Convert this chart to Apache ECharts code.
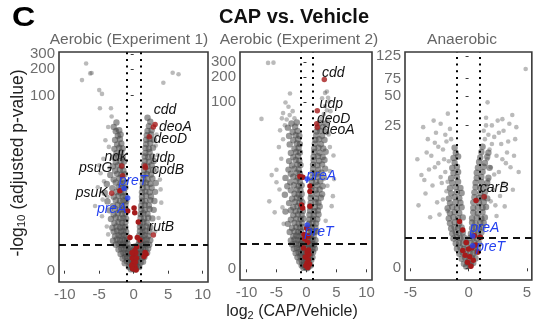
<!DOCTYPE html>
<html><head><meta charset="utf-8">
<script src="https://cdn.jsdelivr.net/npm/echarts@6/dist/echarts.min.js"></script>
<style>html,body{margin:0;padding:0;background:#fff}#c{width:534px;height:326px}</style>
</head><body><div id="c"></div>
<script>
// ---------------- DATA (x = log2 fold change, v = -log10 adjusted p) ----------------
const panelTitles = ['Aerobic (Experiment 1)', 'Aerobic (Experiment 2)', 'Anaerobic'];
const xTicksAerobic = [-10, -5, 0, 5, 10];
const xTicksAnaerobic = [-5, 0, 5];
const yTicksAerobic = [0, 100, 200, 300];
const yTicksAnaerobic = [0, 25, 50, 75, 125];
const fcThreshold = 1;      // |log2 FC| cutoff
const padjThreshold = 1;    // -log10 adjusted p cutoff

// dense central V (non-significant / moderately significant genes)
const aero1Core = [
[-0.4,0.04],[-0.15,0.07],[0.1,0.03],[0.35,0.06],[-0.7,0.1],[-0.3,0.14],[0.05,0.11],[0.25,0.15],[0.55,0.12],[0.8,0.1],
[-1.3,0.22],[-1.0,0.28],[-0.65,0.24],[-0.35,0.3],[0.3,0.25],[0.65,0.29],[1.0,0.23],[1.35,0.27],
[-1.6,0.38],[-1.25,0.44],[-0.95,0.4],[-0.6,0.43],[0.45,0.39],[0.85,0.45],[1.15,0.4],[1.55,0.43],
[-1.9,0.55],[-1.5,0.6],[-1.15,0.56],[-0.8,0.62],[-0.5,0.57],[0.5,0.6],[0.9,0.55],[1.25,0.62],[1.6,0.57],[1.95,0.6],
[-2.2,0.75],[-1.8,0.8],[-1.4,0.76],[-1.05,0.82],[-0.7,0.77],[0.6,0.8],[1.0,0.75],[1.35,0.81],[1.7,0.77],[2.1,0.79],
[-0.3,0.5],[0.1,0.45],[-0.1,0.7],[0.3,0.65],[-0.4,0.85],[0.2,0.9],[0.0,0.3],[-0.2,0.2],[0.15,0.2],
[-2.6,0.98],[-2.2,1.03],[-1.8,0.97],[-1.5,1.02],[-1.2,0.96],[-0.9,1.04],[0.7,0.99],[1.05,1.03],[1.4,0.97],[1.8,1.02],[2.25,0.98],
[-3.0,1.2],[-2.45,1.27],[-2.0,1.22],[-1.6,1.28],[-1.3,1.21],[-0.95,1.26],[0.8,1.22],[1.1,1.28],[1.5,1.2],[1.9,1.27],[2.4,1.23],
[-2.7,1.48],[-2.2,1.55],[-1.8,1.5],[-1.4,1.56],[-1.0,1.49],[0.8,1.53],[1.2,1.48],[1.6,1.55],[2.1,1.5],
[-2.9,1.8],[-2.4,1.86],[-1.9,1.79],[-1.5,1.85],[-1.1,1.8],[0.9,1.84],[1.3,1.78],[1.7,1.86],[2.3,1.81],
[-3.1,2.1],[-2.5,2.2],[-2.0,2.12],[-1.6,2.19],[-1.2,2.14],[0.9,2.18],[1.3,2.11],[1.8,2.2],[2.4,2.13],
[-2.8,2.5],[-2.2,2.6],[-1.7,2.52],[-1.2,2.58],[0.95,2.51],[1.4,2.6],[1.9,2.53],
[-3.3,2.9],[-2.6,3.05],[-2.0,2.95],[-1.5,3.02],[-1.1,2.93],[1.0,3.0],[1.5,2.94],[2.1,3.04],[2.7,2.96],
[-2.9,3.4],[-2.3,3.55],[-1.7,3.45],[-1.2,3.52],[1.0,3.44],[1.4,3.53],[2.0,3.46],
[-3.5,3.9],[-2.7,4.1],[-2.0,3.95],[-1.5,4.05],[-1.1,3.97],[1.1,4.02],[1.6,3.94],[2.3,4.08],[2.9,3.96],
[-3.0,4.5],[-2.3,4.7],[-1.7,4.55],[-1.2,4.65],[1.1,4.52],[1.6,4.68],[2.2,4.57],
[-3.8,5.2],[-2.6,5.4],[-2.0,5.25],[-1.5,5.35],[-1.1,5.22],[1.2,5.32],[1.7,5.24],[2.4,5.38],[3.0,5.27],
[-2.9,6.0],[-2.2,6.2],[-1.6,6.05],[-1.2,6.15],[1.2,6.02],[1.8,6.18],[2.5,6.07],
[-4.2,6.8],[-2.5,7.0],[-1.9,6.85],[-1.4,6.95],[1.2,6.88],[1.7,7.02],[2.3,6.9],[3.1,6.97],
[-3.1,7.8],[-2.2,8.0],[-1.6,7.85],[-1.2,7.95],[1.3,7.88],[1.9,8.02],[2.6,7.9],
[-3.9,8.8],[-2.6,9.2],[-1.9,8.9],[-1.4,9.1],[1.3,8.95],[1.8,9.15],[2.4,8.85],[3.2,9.05],
[-2.9,10.0],[-2.1,10.4],[-1.6,10.1],[1.4,10.3],[2.0,10.05],[2.7,10.35],
[-3.4,11.4],[-2.4,11.8],[-1.8,11.5],[-1.3,11.7],[1.4,11.45],[1.9,11.75],[2.5,11.55],
[-2.7,12.9],[-2.0,13.3],[-1.5,13.0],[1.5,13.2],[2.1,12.95],[2.8,13.25],
[-3.0,14.6],[-2.3,15.0],[-1.7,14.7],[1.5,14.95],[2.0,14.6],[2.6,15.05],
[-2.6,16.5],[-1.9,17.0],[-1.4,16.7],[1.6,16.9],[2.2,16.6],[2.9,17.0],
[-2.9,18.7],[-2.2,19.3],[-1.6,18.9],[1.6,19.2],[2.1,18.8],[2.7,19.3],
[-2.5,21.0],[-1.8,21.7],[1.7,21.2],[2.3,21.6],
[-2.8,23.7],[-2.1,24.4],[-1.6,24.0],[1.7,24.3],[2.2,23.8],[2.8,24.5],
[-2.4,26.8],[-1.8,27.5],[1.8,27.0],[2.4,27.6],
[-2.7,30.2],[-2.0,31.0],[1.8,30.4],[2.3,31.0],[2.9,30.5],
[-2.3,34.0],[-1.9,35.0],[1.9,34.3],[2.5,35.0],
[-2.6,38.3],[-2.1,39.3],[2.0,38.6],[2.6,39.2],
[-2.9,43.0],[2.2,44.0],[-2.5,48.5],[2.4,49.5],[2.0,55.0]
];
// sparse outlying genes
const aero1Sparse = [
[-6.9,233],[-6.3,179],[-6.1,181],[-7.5,150],[-5.0,115],[-4.6,104],[-4.9,71],[-3.3,71],[-3.2,57],[-3.7,43],[-2.5,40],
[5.65,182],[6.5,175],[4.3,140],
[-4.8,12],[-4.4,18],[-5.2,8],[-3.6,25],[-4.1,30],[-3.8,6],[-5.6,4.5],[-4.6,3.2],[-3.9,2.2],[-4.3,9.5],[-5.0,15],[-3.5,14],[-3.7,1.6],[-4.5,5.5],
[3.5,20],[3.8,10],[3.3,35],[4.0,5],[3.6,3],[3.4,13],[3.1,1.8],[3.9,7.5],[3.2,26]
];
const aero1Red = [
[-2.0,7.2],[-0.87,3.8],[0.67,2.6],[-0.54,1.4],[0.52,1.4],[0.43,0.88],[0.9,1.24],[0.05,4.2],[0.15,3.6],
[0.0,0.5],[0.1,0.3],[-0.1,0.2],[0.2,0.1],[-0.2,0.4],[0.3,0.6],[0.05,0.05],[-0.3,0.15],[0.15,0.7],[-0.05,0.35],
[0.25,0.25],[-0.15,0.05],[1.8,0.55],[1.5,0.45],[1.65,0.62],[0.35,0.02],[-0.25,0.6],[0.4,0.4]
];
const aero1Named = [['cdd',3.1,46],['deoA',2.85,43],['deoD',2.26,33],['udp',1.7,14],['cpdB',1.64,14.7],
  ['ndk',-1.6,11.2],['psuG',-1.74,14.7],['psuK',-3.2,6.7],['rutB',2.85,1.56]];
const aero1Pre = [['preT',-1.4,7.7],['preA',-0.87,5.8]];

const aero2Core = [
[-0.5,0.04],[-0.2,0.07],[0.1,0.03],[0.3,0.06],
[-0.8,0.11],[-0.4,0.14],[0.0,0.1],[0.4,0.13],[0.7,0.11],
[-1.2,0.24],[-0.8,0.28],[-0.4,0.23],[0.0,0.27],[0.4,0.25],[0.8,0.29],
[-1.5,0.39],[-1.0,0.43],[-0.6,0.38],[-0.2,0.42],[0.2,0.4],[0.6,0.44],[1.0,0.39],
[-1.8,0.56],[-1.3,0.6],[-0.9,0.55],[-0.5,0.61],[-0.1,0.57],[0.3,0.59],[0.7,0.56],[1.1,0.6],
[-2.1,0.76],[-1.6,0.8],[-1.1,0.75],[-0.7,0.81],[-0.3,0.77],[0.2,0.79],[0.6,0.76],[1.0,0.8],[1.4,0.77],
[-2.4,0.98],[-1.8,1.03],[-1.3,0.97],[-0.9,1.02],[-0.5,0.99],[0.1,1.03],[0.5,0.97],[0.9,1.02],[1.3,0.98],
[-2.6,1.21],[-2.0,1.27],[-1.5,1.22],[-1.0,1.26],[-0.6,1.2],[0.2,1.25],[0.6,1.21],[1.0,1.27],[1.5,1.23],
[-2.2,1.49],[-1.7,1.54],[-1.2,1.5],[-0.7,1.55],[0.3,1.49],[0.7,1.53],[1.2,1.5],
[-2.8,1.8],[-2.0,1.85],[-1.4,1.79],[-0.9,1.84],[0.3,1.81],[0.8,1.86],[1.3,1.79],[1.8,1.84],
[-2.4,2.12],[-1.7,2.2],[-1.1,2.14],[-0.6,2.19],[0.4,2.13],[0.9,2.19],[1.5,2.15],
[-3.1,2.5],[-2.0,2.6],[-1.3,2.52],[-0.8,2.58],[0.4,2.51],[1.0,2.59],[1.6,2.53],
[-2.6,2.93],[-1.7,3.04],[-1.0,2.96],[-0.5,3.02],[0.5,2.95],[1.1,3.03],[1.8,2.97],
[-2.2,3.42],[-1.4,3.53],[-0.8,3.46],[0.5,3.5],[1.2,3.44],[2.0,3.52],
[-3.5,3.9],[-2.6,4.08],[-1.8,3.95],[-1.1,4.05],[-0.6,3.97],[0.6,4.03],[1.3,3.95],[1.9,4.06],
[-2.2,4.52],[-1.5,4.68],[-0.9,4.57],[0.6,4.65],[1.4,4.53],[2.2,4.66],
[-2.9,5.2],[-1.9,5.4],[-1.2,5.25],[-0.7,5.36],[0.7,5.23],[1.5,5.38],[2.0,5.27],
[-2.4,6.0],[-1.6,6.2],[-1.0,6.05],[0.7,6.15],[1.6,6.02],[2.4,6.18],
[-3.6,6.8],[-2.0,7.0],[-1.3,6.85],[-0.8,6.97],[0.8,6.88],[1.7,7.02],[2.6,6.9],
[-2.6,7.8],[-1.6,8.0],[-1.0,7.85],[0.8,7.95],[1.5,7.82],[2.2,8.02],
[-3.2,8.85],[-2.1,9.15],[-1.3,8.9],[-0.8,9.1],[0.9,8.95],[1.8,9.12],[2.7,8.88],
[-2.7,10.0],[-1.7,10.4],[-1.1,10.1],[0.9,10.3],[1.6,10.05],[2.3,10.35],
[-3.5,11.4],[-2.2,11.8],[-1.4,11.5],[-0.9,11.75],[1.0,11.45],[1.9,11.7],[2.9,11.5],
[-2.6,12.9],[-1.6,13.3],[-1.1,13.0],[1.0,13.25],[1.7,12.95],[2.5,13.3],
[-3.0,14.6],[-2.0,15.0],[-1.3,14.7],[1.1,14.95],[2.0,14.6],[3.1,15.0],
[-2.4,16.5],[-1.5,17.0],[-1.0,16.7],[1.1,16.9],[1.8,16.6],[2.6,17.0],
[-2.9,18.7],[-1.8,19.3],[-1.2,18.9],[1.2,19.2],[2.1,18.8],[3.0,19.3],
[-2.2,21.0],[-1.4,21.7],[1.2,21.2],[1.9,21.6],[2.7,21.1],
[-2.6,23.7],[-1.7,24.4],[-1.1,24.0],[1.3,24.3],[2.2,23.8],[3.2,24.5],
[-2.0,26.8],[-1.3,27.5],[1.3,27.0],[2.0,27.6],[2.8,26.9],
[-2.8,30.2],[-1.6,31.0],[-1.1,30.5],[1.4,30.8],[2.4,30.3],
[-2.2,34.0],[-1.4,35.0],[1.5,34.3],[2.1,35.0],[3.0,34.2],
[-2.9,38.3],[-1.8,39.3],[-1.2,38.7],[1.6,39.0],[2.6,38.5],
[-2.3,43.0],[-1.5,44.3],[1.7,43.5],[2.3,44.2],[3.3,43.2],
[-3.1,48.5],[-1.9,49.8],[1.9,48.8],[2.8,49.6],
[-2.5,54.5],[-1.6,56.0],[2.2,55.2],[3.2,54.6]
];
const aero2Sparse = [
[-3.3,61],[-2.0,63],[2.5,62],[3.6,61.5],
[-2.8,69],[2.9,71],[-2.3,77],[3.4,79],[4.0,77],
[-3.0,87],[3.1,89],[-3.5,98],[3.8,100],[2.6,110],[3.6,112],[-2.75,126],[3.1,128],[3.4,133],
[-6.4,294],[-5.5,296],[-7.5,62],[-4.1,63],[-3.9,73],[-5.8,12.4],[-5.0,14.5],[-5.0,10],[-4.5,8],[-6.2,5.5],
[-4.2,20],[-3.9,35],[-4.6,28],[-5.3,3.8],[-4.0,4.5],[-3.8,2.5],[-4.4,45],[-3.6,52],
[4.2,4.7],[3.5,9],[3.9,14],[4.5,22],[3.7,40],[4.4,6.5],[3.2,2.8],[3.9,28],[4.6,11]
];
const aero2Red = [
[-1.1,11.9],[-0.6,11.6],[0.58,8.9],[0.58,7.5],[-0.8,4.9],[-0.63,4.4],[0.58,4.7],[0.03,2.1],
[-0.3,1.3],[0.2,1.1],[-0.5,0.8],[0.1,0.6],[0.4,0.5],[-0.2,0.4],[0.3,0.3],[0.1,0.2],[0.5,0.15],
[-0.1,0.1],[0.2,0.05],[0.35,0.7],[-0.4,1.6],[0.25,1.5]
];
const aero2Named = [['cdd',2.97,185],['udp',1.8,78],['deoD',1.7,54],['deoA',1.8,49]];
const aero2Pre = [['preA',0.13,11],['preT',0.13,2.4]];

const anaCore = [
[-0.2,0.04],[0.1,0.06],
[-0.4,0.11],[-0.1,0.14],[0.2,0.1],[0.4,0.13],
[-0.6,0.24],[-0.3,0.28],[0.0,0.23],[0.3,0.27],[0.6,0.25],
[-0.8,0.39],[-0.5,0.43],[-0.2,0.38],[0.1,0.42],[0.4,0.4],[0.7,0.44],
[-1.0,0.56],[-0.7,0.6],[-0.4,0.55],[-0.1,0.61],[0.2,0.57],[0.5,0.6],[0.8,0.56],
[-1.1,0.76],[-0.8,0.8],[-0.5,0.75],[-0.2,0.81],[0.2,0.77],[0.5,0.79],[0.9,0.76],
[-1.3,0.97],[-1.0,1.03],[-0.7,0.98],[-0.4,1.02],[0.1,0.99],[0.4,1.03],[0.7,0.97],[1.0,1.02],
[-1.4,1.21],[-1.1,1.27],[-0.8,1.22],[-0.5,1.26],[0.2,1.2],[0.5,1.25],[0.8,1.21],[1.1,1.27],
[-1.5,1.48],[-1.2,1.55],[-0.9,1.5],[-0.6,1.54],[0.3,1.49],[0.6,1.53],[0.9,1.5],[1.2,1.55],
[-1.6,1.79],[-1.2,1.85],[-0.8,1.8],[0.3,1.84],[0.6,1.79],[1.0,1.86],[1.3,1.81],
[-1.7,2.12],[-1.3,2.2],[-0.9,2.14],[-0.5,2.19],[0.3,2.13],[0.7,2.19],[1.1,2.12],[1.4,2.18],
[-1.6,2.5],[-1.2,2.6],[-0.8,2.53],[0.4,2.58],[0.8,2.51],[1.2,2.6],
[-1.8,2.93],[-1.4,3.04],[-1.0,2.96],[-0.6,3.02],[0.4,2.95],[0.8,3.03],[1.2,2.97],[1.5,3.05],
[-1.6,3.42],[-1.1,3.53],[-0.7,3.46],[0.4,3.5],[0.9,3.44],[1.3,3.52],
[-1.7,3.9],[-1.2,4.08],[-0.8,3.95],[0.5,4.05],[0.9,3.96],[1.3,4.06],[1.6,3.93],
[-1.5,4.52],[-1.0,4.68],[-0.6,4.57],[0.5,4.65],[1.0,4.53],[1.4,4.66],
[-1.6,5.2],[-1.1,5.4],[-0.7,5.25],[0.6,5.36],[1.0,5.23],[1.5,5.38],
[-1.4,6.0],[-0.9,6.2],[0.6,6.05],[1.1,6.18],[1.6,6.02],
[-1.5,6.8],[-1.0,7.0],[0.7,6.85],[1.1,7.02],[1.7,6.9],
[-1.3,7.8],[-0.9,8.0],[0.7,7.85],[1.2,8.02],
[-1.4,8.85],[-1.0,9.15],[0.8,8.9],[1.3,9.12],[1.8,8.88],
[-1.2,10.1],[0.9,10.3],[1.4,10.05],
[-1.3,11.4],[-0.9,11.8],[1.0,11.5],[1.6,11.75],
[-1.1,12.9],[1.1,13.2],[1.7,12.95],[-1.2,14.6],[1.2,15.0]
];
const anaSparse = [
[-4.05,7.4],[-3.9,24],[-3.5,18],[-3.2,12],[-2.9,9],[-2.6,15],[-2.3,6],[-2.0,20],[-3.7,4.5],[-2.7,3.5],
[-2.1,11],[-1.78,33],[-3.0,28],[-2.4,26],[-1.9,4.8],[-3.4,8.5],[-4.3,3.2],[-2.5,2.4],[-1.8,2.7],[-3.1,5.6],
[-2.2,14],[-1.9,17],[-2.8,21],[-4.4,11],[-3.6,13],[-2.0,8],[-1.6,23],[-2.4,7],[-1.8,6.2],[-3.3,2.2],
[-2.9,16.5],[-2.2,3.8],[-3.8,6.5],[-1.7,10.5],[-2.6,10],[-1.5,18],
[4.9,93],[1.63,43],[3.75,32],[1.5,30],[2.0,25],[2.5,28],[3.0,22],[3.5,26],[4.0,18],[2.2,19],
[2.8,16],[3.3,13],[1.7,20],[2.4,12],[3.6,9],[4.3,8],[1.9,9],[2.6,8],[3.0,6],[2.1,5],
[2.7,4.2],[3.8,5],[1.8,14],[2.3,3.2],[1.6,11],[3.2,10],[2.0,16],[2.9,11],[1.4,18],[1.5,25],
[2.6,21],[3.9,12],[4.1,24],[3.4,17],[2.2,7.5],[1.9,3.6],[3.1,3.1],[2.4,2.3],[1.7,6.5],[2.9,29],[1.3,22]
];
const anaRed = [
[0.64,3.7],[-0.78,1.9],[-0.5,1.4],[1.0,1.03],[-0.2,0.8],[0.3,0.6],[-0.5,0.5],[0.6,0.7],[0.1,0.3],
[-0.1,0.15],[0.4,0.2],[0.8,0.45],[-0.3,0.35],[0.2,0.05],[0.5,1.1],[0.0,0.55]
];
const anaNamed = [['carB',1.34,4.1]];
const anaPre = [['preA',0.35,1.09],['preT',0.35,0.67]];

// ---------------- LAYOUT / STYLE ----------------
const FONT = 'Liberation Sans, Arial, sans-serif';
const tf = v => Math.log10(1 + v);  // pseudo-log10 y scale
const labelOffsets = [
  {cdd:[10,-14],deoA:[22,0],deoD:[21,2],udp:[18,-10],cpdB:[23,4],ndk:[-7,-19],psuG:[-26,2],psuK:[-20,0],rutB:[8,-8],preT:[9,-7],preA:[-16,11]},
  {cdd:[9,-7],udp:[14,-7],deoD:[17,-5],deoA:[21,3],preA:[14,-3],preT:[12,7]},
  {carB:[10,-9],preA:[12,-8],preT:[18,1]}
];
const panels = [
  {core:aero1Core, sparse:aero1Sparse, red:aero1Red, named:aero1Named, pre:aero1Pre, xt:xTicksAerobic, yt:yTicksAerobic,
   grid:{left:59,top:52,width:149,height:230}, xmin:-10.83, xmax:10.77, ymin:-0.129, ymax:2.5},
  {core:aero2Core, sparse:aero2Sparse, red:aero2Red, named:aero2Named, pre:aero2Pre, xt:xTicksAerobic, yt:yTicksAerobic,
   grid:{left:240,top:52,width:132,height:228}, xmin:-11.08, xmax:10.92, ymin:-0.128, ymax:2.6},
  {core:anaCore, sparse:anaSparse, red:anaRed, named:anaNamed, pre:anaPre, xt:xTicksAnaerobic, yt:yTicksAnaerobic,
   grid:{left:405,top:52,width:128,height:228}, xmin:-5.46, xmax:5.43, ymin:-0.116, ymax:2.142}
];
const RED = '#a51b1b', BLUE = '#2340f0', GRAY = '#4a4a4a', TICKCOL = '#6e6e6e';

const grids = [], xAxes = [], yAxes = [], series = [];
panels.forEach((p, i) => {
  grids.push(Object.assign({show:true, borderColor:'#3a3a3a', borderWidth:1.6, backgroundColor:'rgba(0,0,0,0)', containLabel:false}, p.grid));
  xAxes.push({type:'value', gridIndex:i, min:p.xmin, max:p.xmax, splitLine:{show:false},
    axisLine:{show:false},
    axisTick:{show:true, length:3, customValues:p.xt, lineStyle:{color:'#3a3a3a', width:1}},
    axisLabel:{customValues:p.xt, color:TICKCOL, fontSize:15, fontFamily:FONT, margin:5, hideOverlap:false,
      showMinLabel:true, showMaxLabel:true, formatter: v => String(Math.round(v))}});
  const yv = p.yt.map(tf);
  yAxes.push({type:'value', gridIndex:i, min:p.ymin, max:p.ymax, splitLine:{show:false},
    axisLine:{show:false},
    axisTick:{show:true, length:3, customValues:yv, lineStyle:{color:'#3a3a3a', width:1}},
    axisLabel:{show:false}});
  series.push({type:'scatter', xAxisIndex:i, yAxisIndex:i, silent:true, z:2,
    data:p.sparse.map(d => [d[0], tf(d[1])]), symbolSize:4.6,
    itemStyle:{color:GRAY, opacity:0.38}});
  series.push({type:'scatter', xAxisIndex:i, yAxisIndex:i, silent:true, z:2,
    data:p.core.map(d => [d[0], tf(d[1])]), symbolSize:6.4,
    itemStyle:{color:GRAY, opacity:0.56}});
  series.push({type:'scatter', xAxisIndex:i, yAxisIndex:i, silent:true, z:4,
    data:p.red.map(d => [d[0], tf(d[1])]), symbolSize:5.5, itemStyle:{color:RED, opacity:1},
    markLine:{silent:true, symbol:['none','none'], animation:false, label:{show:false},
      data:[
        {xAxis:-fcThreshold, lineStyle:{color:'#000', width:2, type:[2,4.7]}},
        {xAxis:fcThreshold, lineStyle:{color:'#000', width:2, type:[2,4.7]}},
        {yAxis:tf(padjThreshold), lineStyle:{color:'#111', width:1.8, type:[7,5]}}
      ]}});
  const mk = (g, col) => ({name:g[0], value:[g[1], tf(g[2])], itemStyle:{color:col}});
  series.push({type:'scatter', xAxisIndex:i, yAxisIndex:i, silent:true, z:5, symbolSize:5.5,
    data:p.named.map(g => mk(g, RED)).concat(p.pre.map(g => mk(g, BLUE)))});
});

const graphic = [
  {type:'text', left:12, top:4, style:{text:'C', font:'bold 28px ' + FONT, fill:'#000'}, scaleX:1.15},
  {type:'text', x:294, y:17, style:{text:'CAP vs. Vehicle', font:'bold 20px ' + FONT, fill:'#111', align:'center', verticalAlign:'middle'}},
  {type:'text', x:129, y:40, style:{text:panelTitles[0], font:'15.5px ' + FONT, fill:'#666', align:'center', verticalAlign:'middle'}},
  {type:'text', x:299, y:40, style:{text:panelTitles[1], font:'15.5px ' + FONT, fill:'#666', align:'center', verticalAlign:'middle'}},
  {type:'text', x:462, y:40, style:{text:panelTitles[2], font:'15.5px ' + FONT, fill:'#666', align:'center', verticalAlign:'middle'}},
  {type:'text', x:292, y:312, style:{text:'{m|log}{s|2}{m| (CAP/Vehicle)}', align:'center', verticalAlign:'middle', fill:'#222',
     rich:{m:{fontSize:16, fontFamily:FONT, fill:'#222', lineHeight:18}, s:{fontSize:11, fontFamily:FONT, fill:'#222', lineHeight:8, verticalAlign:'bottom'}}}},
  {type:'text', x:18, y:163, rotation:Math.PI/2, style:{text:'{m|-log}{s|10}{m| (adjusted p-value)}', align:'center', verticalAlign:'middle', fill:'#222',
     rich:{m:{fontSize:17.5, fontFamily:FONT, fill:'#222', lineHeight:20}, s:{fontSize:11.5, fontFamily:FONT, fill:'#222', lineHeight:9, verticalAlign:'bottom'}}}}
];

const chart = echarts.init(document.getElementById('c'), null, {renderer:'canvas'});
chart.setOption({animation:false, backgroundColor:'#fff', grid:grids, xAxis:xAxes, yAxis:yAxes, series:series, graphic:graphic});

// y tick labels (pseudo-log axis) and gene labels, positioned through the axes
const extra = [];
panels.forEach((p, i) => {
  p.yt.forEach(v => {
    const py = chart.convertToPixel({yAxisIndex:i}, tf(v));
    extra.push({type:'text', x:p.grid.left - 4, y:py, z:10,
      style:{text:String(v), font:'15px ' + FONT, fill:TICKCOL, align:'right', verticalAlign:'middle'}});
  });
  const add = (g, col) => {
    const pt = chart.convertToPixel({gridIndex:i}, [g[1], tf(g[2])]);
    const o = labelOffsets[i][g[0]] || [0, 0];
    extra.push({type:'text', x:pt[0] + o[0], y:pt[1] + o[1], z:10,
      style:{text:g[0], font:'italic 14px ' + FONT, fill:col, align:'center', verticalAlign:'middle'}});
  };
  p.named.forEach(g => add(g, '#111'));
  p.pre.forEach(g => add(g, BLUE));
});
chart.setOption({graphic: graphic.concat(extra)});
</script></body></html>
